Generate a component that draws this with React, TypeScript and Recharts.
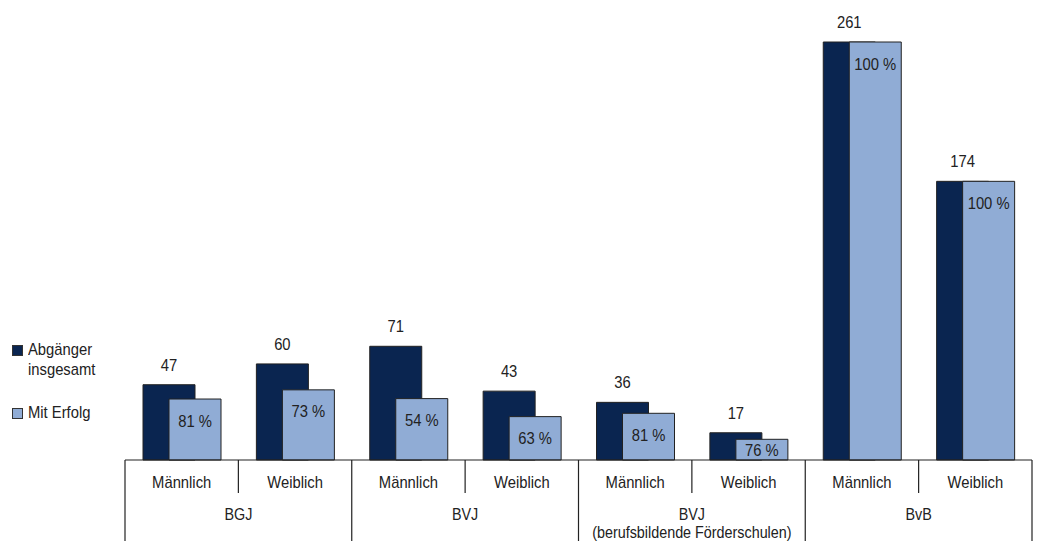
import React from 'react';
import { BarChart, Bar, XAxis, YAxis, LabelList } from 'recharts';

const categories = ['Männlich', 'Weiblich', 'Männlich', 'Weiblich', 'Männlich', 'Weiblich', 'Männlich', 'Weiblich'];
const groups: string[][] = [['BGJ'], ['BVJ'], ['BVJ', '(berufsbildende Förderschulen)'], ['BvB']];
const totals = [47, 60, 71, 43, 36, 17, 261, 174];
const successPct = [81, 73, 54, 63, 81, 76, 100, 100];
const seriesNames = ['Abgänger', 'insgesamt', 'Mit Erfolg'];

const data = categories.map((c, i) => ({
  idx: i,
  name: c,
  total: totals[i],
  success: (totals[i] * successPct[i]) / 100,
  pct: successPct[i],
}));

const FONT = "'Liberation Sans Narrow','Arial Narrow','Liberation Sans',Arial,sans-serif";
const DARK = '#0a2550';
const LIGHT = '#90acd5';
const TEXT = '#222222';
const LINE = '#222222';
const SX = 0.87;

const NText = ({ x, y, lines, size = 17, gap = 18 }: { x: number; y: number; lines: (string | number)[]; size?: number; gap?: number }) => (
  <text
    transform={`translate(${x},${y}) scale(${SX},1)`}
    x={0}
    y={0}
    textAnchor="middle"
    fill={TEXT}
    fontSize={size}
    fontFamily={FONT}
  >
    {lines.map((t, k) => (
      <tspan key={k} x={0} dy={k === 0 ? 0 : gap}>
        {t}
      </tspan>
    ))}
  </text>
);

const Tick = (props: any) => {
  const { x, y, payload } = props;
  const i: number = payload.index ?? props.index;
  const half: number = payload.offset ?? 56.7;
  const isFirst = i % 2 === 0;
  const last = i === categories.length - 1;
  const g = groups[Math.floor(i / 2)];
  return (
    <g>
      <NText x={x} y={y + 28} lines={[categories[i]]} />
      {isFirst && <line x1={x + half} x2={x + half} y1={y} y2={y + 33} stroke={LINE} strokeWidth={1.2} />}
      {isFirst && <line x1={x - half} x2={x - half} y1={y} y2={y + 81} stroke={LINE} strokeWidth={1.2} />}
      {last && <line x1={x + half} x2={x + half} y1={y} y2={y + 81} stroke={LINE} strokeWidth={1.2} />}
      {isFirst && <NText x={x + half} y={y + 60} lines={g} size={16.5} gap={18.5} />}
    </g>
  );
};

const TotalLabel = (props: any) => {
  const { x, y, width, value } = props;
  return <NText x={x + width / 2} y={y - 14} lines={[value]} />;
};

const PctLabel = (props: any) => {
  const { x, y, width, height, value } = props;
  const cy = y + Math.min(21, height / 2);
  return <NText x={x + width / 2} y={cy + 6.5} lines={[`${value} %`]} />;
};

const legendText: React.CSSProperties = {
  display: 'inline-block',
  transform: `scaleX(${SX})`,
  transformOrigin: 'left top',
  whiteSpace: 'nowrap',
};

export default function App() {
  return (
    <div style={{ position: 'fixed', left: 0, top: 0, width: 1043, height: 541, background: '#fff', fontFamily: FONT }}>
      <BarChart
        width={1043}
        height={541}
        data={data}
        margin={{ top: 42, right: 11, bottom: 0, left: 125 }}
        barSize={52}
        barGap={-26}
      >
        <XAxis
          dataKey="idx"
          type="category"
          height={81}
          tickSize={0}
          tickMargin={0}
          tickLine={false}
          axisLine={{ stroke: LINE, strokeWidth: 1.2 }}
          tick={<Tick />}
          interval={0}
        />
        <YAxis hide domain={[0, 261]} />
        <Bar dataKey="total" fill={DARK} stroke={LINE} strokeWidth={1} isAnimationActive={false}>
          <LabelList dataKey="total" content={<TotalLabel />} />
        </Bar>
        <Bar dataKey="success" fill={LIGHT} stroke={LINE} strokeWidth={1} isAnimationActive={false}>
          <LabelList dataKey="pct" content={<PctLabel />} />
        </Bar>
      </BarChart>
      <div style={{ position: 'absolute', left: 12, top: 340, fontSize: 17, color: TEXT, lineHeight: '20px' }}>
        <div style={{ display: 'flex', alignItems: 'flex-start' }}>
          <span style={{ width: 9, height: 9, background: DARK, border: '1px solid #333', marginTop: 5, marginRight: 5, flex: 'none' }} />
          <span style={legendText}>
            {seriesNames[0]}
            <br />
            {seriesNames[1]}
          </span>
        </div>
        <div style={{ display: 'flex', alignItems: 'flex-start', marginTop: 23 }}>
          <span style={{ width: 9, height: 9, background: LIGHT, border: '1px solid #333', marginTop: 5, marginRight: 5, flex: 'none' }} />
          <span style={legendText}>{seriesNames[2]}</span>
        </div>
      </div>
    </div>
  );
}
